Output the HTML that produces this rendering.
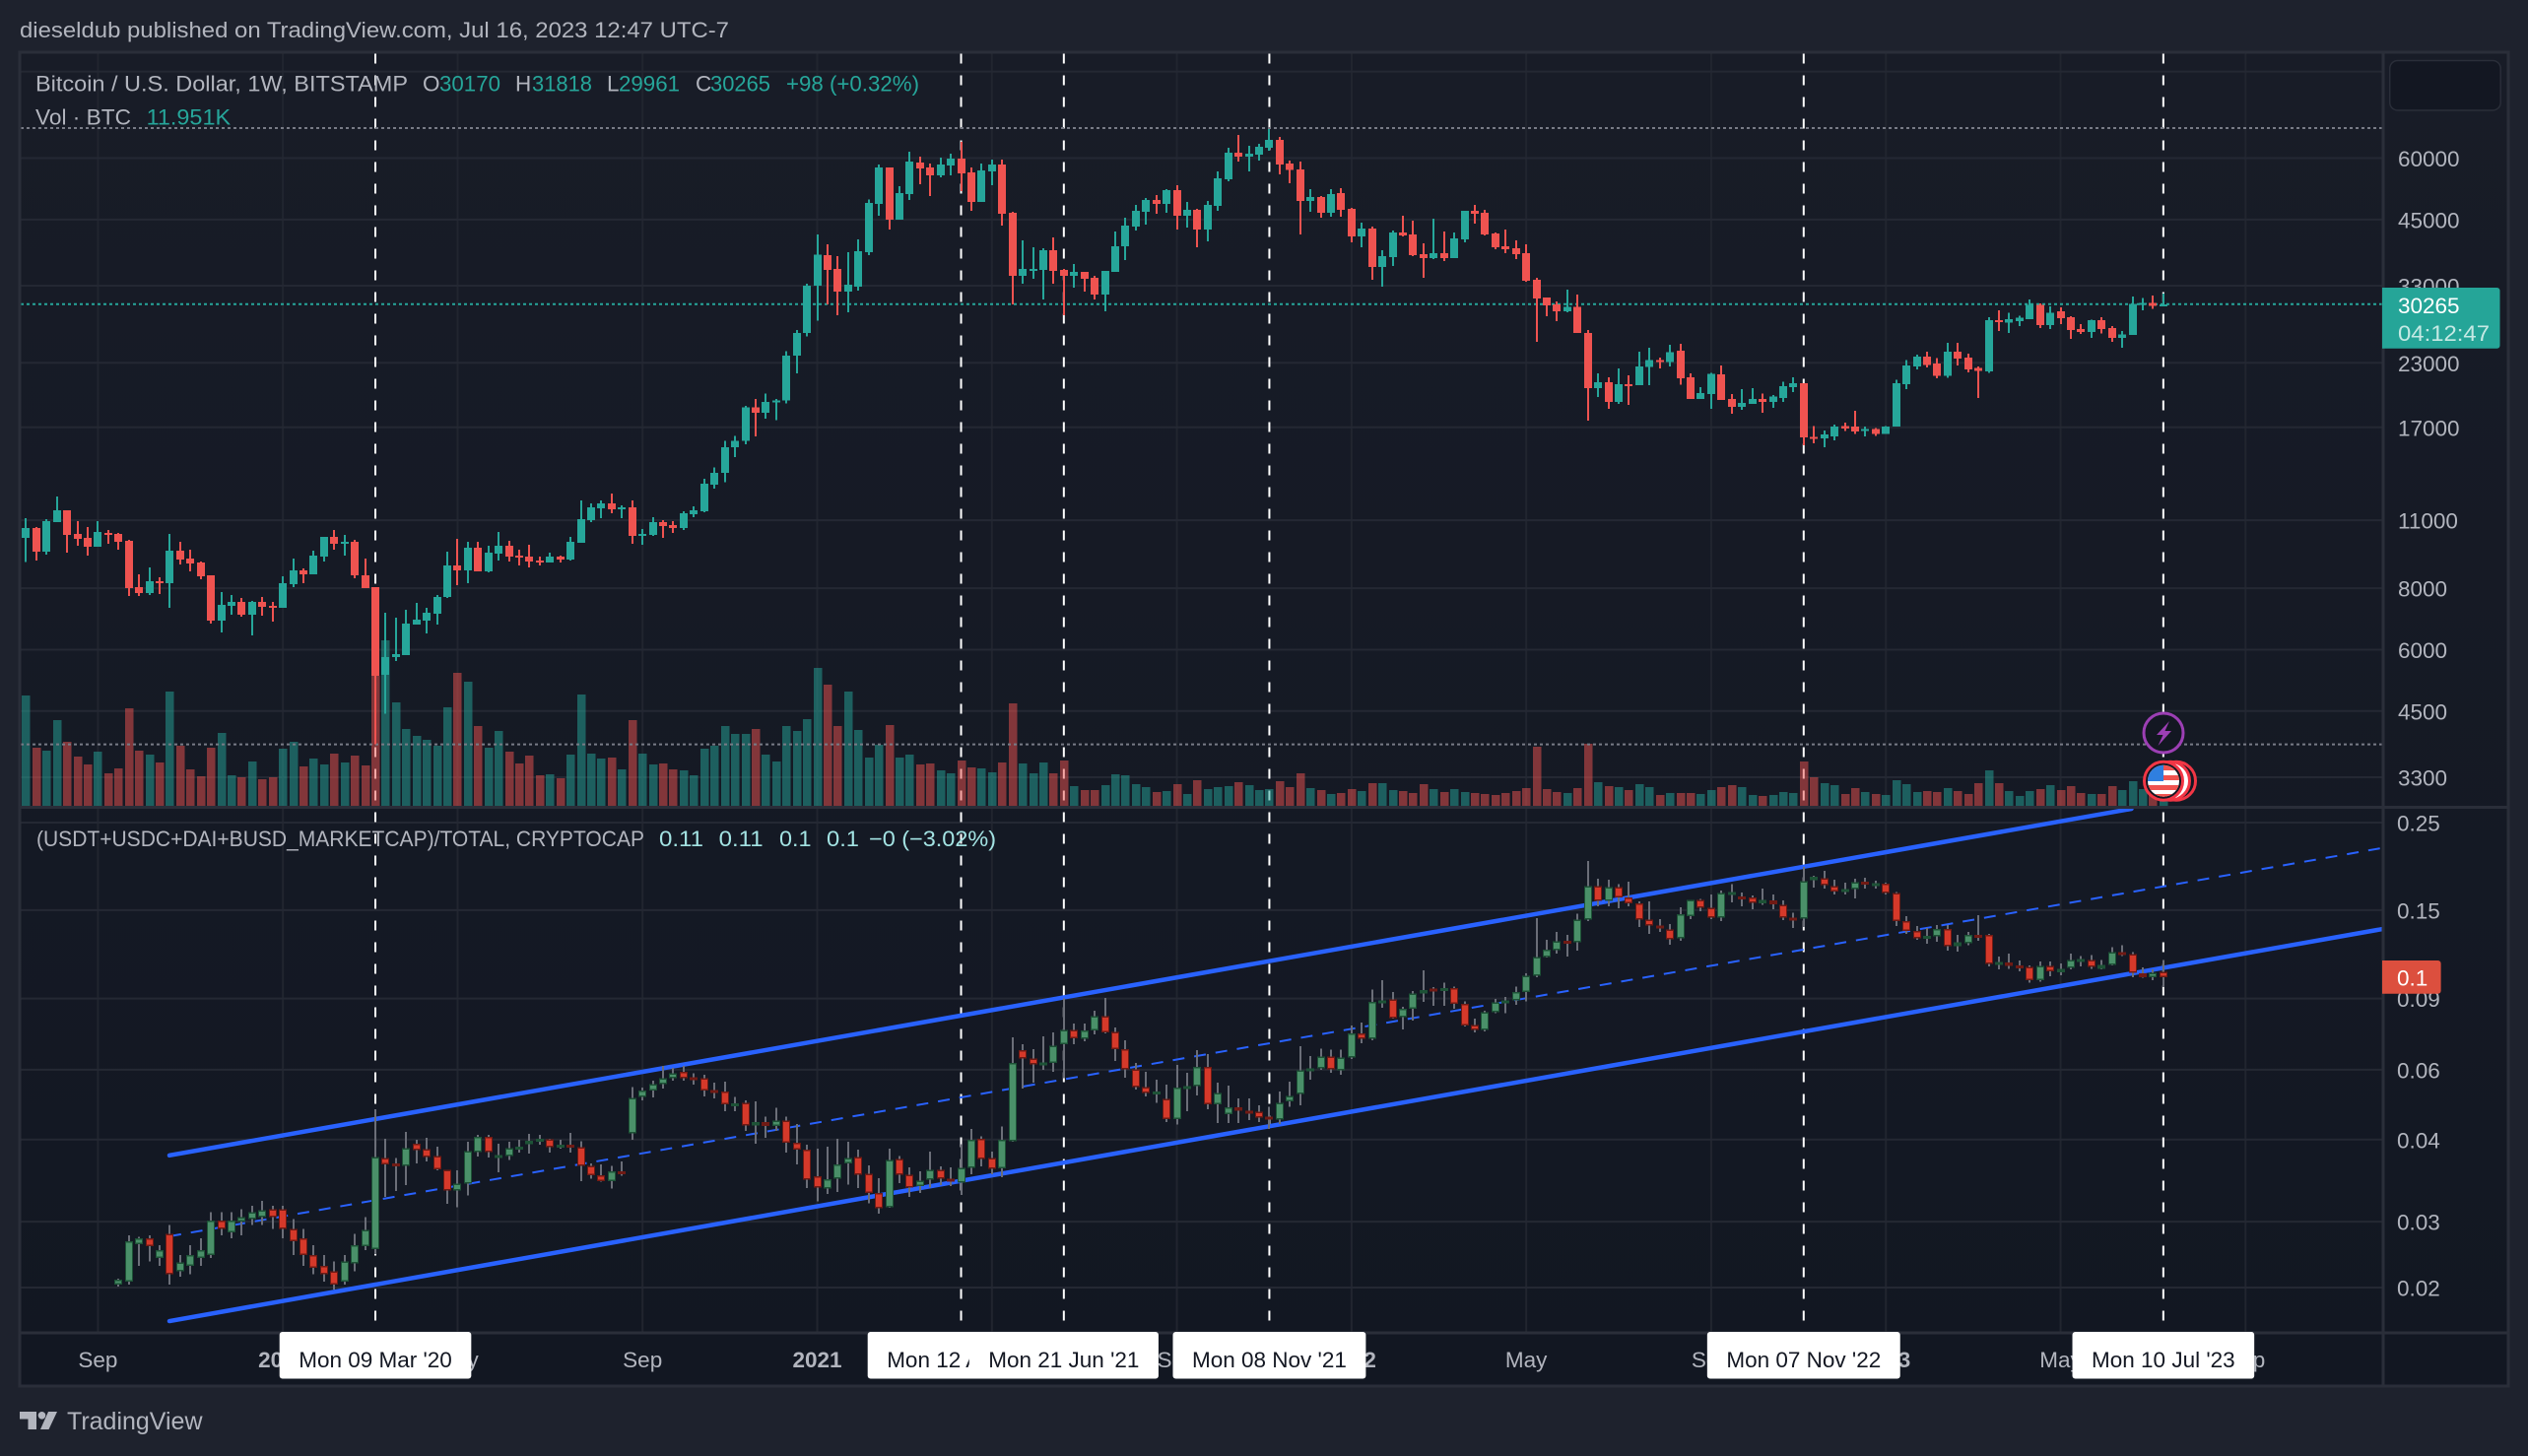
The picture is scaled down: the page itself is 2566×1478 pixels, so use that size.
<!DOCTYPE html>
<html lang="en">
<head>
<meta charset="utf-8">
<title>BTCUSD weekly with stablecoin dominance channel</title>
<style>
html,body{margin:0;padding:0;background:#1e222d;width:2566px;height:1478px;overflow:hidden}
svg{display:block;font-family:"Liberation Sans",Arial,sans-serif}
</style>
</head>
<body>
<svg id="chart" xmlns="http://www.w3.org/2000/svg" width="2566" height="1478" viewBox="0 0 2566 1478">
  <defs>
    <linearGradient id="paneBg" x1="0" y1="0" x2="0" y2="1">
      <stop offset="0" stop-color="#181c27"/>
      <stop offset="1" stop-color="#121722"/>
    </linearGradient>
    <clipPath id="flagClip"><circle cx="2196" cy="792.7" r="16"/></clipPath>
    <clipPath id="paneClip"><rect x="21" y="54" width="2397" height="1298"/></clipPath>
  </defs>
  <rect x="0" y="0" width="2566" height="1478" fill="#1e222d"/>
  <rect x="20" y="53" width="2526" height="1354" fill="url(#paneBg)"/>
  <g id="gridLayer"></g>
  <g id="markerLineLayer" clip-path="url(#paneClip)"></g>
  <g id="channelLayer" clip-path="url(#paneClip)"></g>
  <g id="volumeLayer" shape-rendering="crispEdges"></g>
  <g id="levelLayer"></g>
  <g id="btcLayer" shape-rendering="crispEdges"></g>
  <g id="ratioLayer" shape-rendering="crispEdges"></g>

  <g fill="none" stroke="#2a2e39" stroke-width="3">
    <rect x="20" y="53" width="2526" height="1354"/>
    <line x1="20" y1="819.5" x2="2546" y2="819.5"/>
    <line x1="20" y1="1353" x2="2546" y2="1353"/>
    <line x1="2419" y1="53" x2="2419" y2="1407"/>
  </g>

  <g id="priceAxisLayer"></g>
  <g id="ratioAxisLayer"></g>
  <g id="timeAxisLayer"></g>

  <text x="20" y="38" font-size="22.5" fill="#b2b5be" textLength="720" lengthAdjust="spacingAndGlyphs">dieseldub published on TradingView.com, Jul 16, 2023 12:47 UTC-7</text>

  <g font-size="22.5">
    <text x="36" y="92.5" fill="#b2b5be" textLength="378" lengthAdjust="spacingAndGlyphs">Bitcoin / U.S. Dollar, 1W, BITSTAMP</text>
    <text x="429" y="92.5" fill="#b2b5be">O</text>
    <text x="446" y="92.5" fill="#26a69a" textLength="62" lengthAdjust="spacingAndGlyphs">30170</text>
    <text x="523" y="92.5" fill="#b2b5be">H</text>
    <text x="540" y="92.5" fill="#26a69a" textLength="61" lengthAdjust="spacingAndGlyphs">31818</text>
    <text x="616" y="92.5" fill="#b2b5be">L</text>
    <text x="628" y="92.5" fill="#26a69a" textLength="62" lengthAdjust="spacingAndGlyphs">29961</text>
    <text x="706" y="92.5" fill="#b2b5be">C</text>
    <text x="721" y="92.5" fill="#26a69a" textLength="61" lengthAdjust="spacingAndGlyphs">30265</text>
    <text x="798" y="92.5" fill="#26a69a" textLength="135" lengthAdjust="spacingAndGlyphs">+98 (+0.32%)</text>
    <text x="36" y="126.5" fill="#b2b5be" textLength="97" lengthAdjust="spacingAndGlyphs">Vol · BTC</text>
    <text x="148.6" y="126.5" fill="#26a69a" textLength="85.5" lengthAdjust="spacingAndGlyphs">11.951K</text>
  </g>

  <g font-size="22.5">
    <text x="37" y="859" fill="#b2b5be" textLength="617" lengthAdjust="spacingAndGlyphs">(USDT+USDC+DAI+BUSD_MARKETCAP)/TOTAL, CRYPTOCAP</text>
    <text x="669" y="859" fill="#a3e3e3" textLength="45" lengthAdjust="spacingAndGlyphs">0.11</text>
    <text x="729.6" y="859" fill="#a3e3e3" textLength="45" lengthAdjust="spacingAndGlyphs">0.11</text>
    <text x="791" y="859" fill="#a3e3e3" textLength="32.5" lengthAdjust="spacingAndGlyphs">0.1</text>
    <text x="839" y="859" fill="#a3e3e3" textLength="33" lengthAdjust="spacingAndGlyphs">0.1</text>
    <text x="882" y="859" fill="#a3e3e3" textLength="129" lengthAdjust="spacingAndGlyphs">−0 (−3.02%)</text>
  </g>

  <rect x="2425.7" y="61.5" width="112.5" height="50.5" rx="8" fill="#131722" stroke="#2a2e39" stroke-width="1.5"/>

  <g>
    <path d="M2418 292h116.5a3 3 0 0 1 3 3v55.7a3 3 0 0 1-3 3H2418z" fill="#25a598"/>
    <text x="2434" y="318" font-size="22.5" fill="#ffffff">30265</text>
    <text x="2434" y="346" font-size="22.5" fill="#c5e9e4" textLength="93" lengthAdjust="spacingAndGlyphs">04:12:47</text>
  </g>

  <g>
    <path d="M2418 975h56.6a3 3 0 0 1 3 3v27.7a3 3 0 0 1-3 3H2418z" fill="#dc4f3e"/>
    <text x="2433" y="1000.5" font-size="22.5" fill="#ffffff">0.1</text>
  </g>

  <g>
    <circle cx="2196" cy="744" r="20" fill="#131722" stroke="#9c3fb4" stroke-width="3"/>
    <path d="M2202 732l-13 14h6.500l-5 11 13.500-15h-6.500z" fill="#9c3fb4"/>
  </g>
  <g>
    <circle cx="2209" cy="792.7" r="19.5" fill="#131722" stroke="#f23645" stroke-width="3"/>
    <circle cx="2203" cy="792.7" r="19.5" fill="#ffffff" stroke="#f23645" stroke-width="3"/>
    <circle cx="2196" cy="792.7" r="19.5" fill="#131722" stroke="#f23645" stroke-width="3"/>
    <g clip-path="url(#flagClip)">
      <rect x="2178" y="775" width="36" height="36" fill="#ffffff"/>
      <rect x="2178" y="777" width="36" height="5" fill="#f0524f"/>
      <rect x="2178" y="787" width="36" height="5" fill="#f0524f"/>
      <rect x="2178" y="797" width="36" height="5" fill="#f0524f"/>
      <rect x="2178" y="806" width="36" height="5" fill="#f0524f"/>
      <rect x="2178" y="775" width="18" height="18" fill="#2f7fe0"/>
    </g>
  </g>

  <g>
    <path d="M20 1433h17v18h-8.500v-10.500H20z" fill="#b2b5be"/>
    <circle cx="42.500" cy="1436.800" r="3.800" fill="#b2b5be"/>
    <path d="M49 1433h9l-8.500 18H41z" fill="#b2b5be"/>
    <text x="68" y="1451" font-size="25" fill="#b2b5be" textLength="137.500" lengthAdjust="spacingAndGlyphs">TradingView</text>
  </g>
</svg>

<script>
const btcOpen = [
10130,10608,9496,10905,11527,10318,10129,9718,10366,10318,
9990,8044,7825,8270,8194,9540,9195,9027,8502,6877,
7369,7506,7070,7506,7369,7302,8157,8700,8541,9280,
10177,9853,9944,8502,8044,5337,5798,5852,6752,6877,
7103,7681,8903,8700,9674,8660,9409,9763,9322,9280,
9111,9027,9280,9153,9899,11010,11632,11904,11580,11686,
10224,10271,10905,10755,10608,11316,11473,13000,13750,15480,
15960,18660,18180,19150,19270,23800,26450,33000,38070,35700,
32100,32850,38610,48410,57420,44960,50690,58770,57420,55340,
57950,59850,56120,48850,56370,58220,46430,34560,35530,35530,
38970,35530,34560,35200,34240,31660,35200,39690,43530,46650,
49300,48410,51640,45800,47080,42930,47970,54330,61540,60410,
60980,62980,65350,58490,56960,49080,50000,46430,50930,47300,
41570,43130,36020,37730,42340,41940,38250,37560,38430,37560,
40990,46860,46430,42140,39690,39330,38430,33930,31220,30230,
29270,29900,26450,20430,21000,19150,20830,20710,22540,23290,
23070,24340,21480,19420,19860,21780,19420,18710,18980,19420,
19170,19520,20500,20910,16270,16130,16300,17090,17060,16710,
16850,16500,17060,20800,22600,23660,22920,21660,24210,23570,
22440,22080,28090,27790,27940,28230,30190,27450,29290,28480,
26920,26600,28090,27060,25850,26220,30300,30460,30170];
const btcHigh = [
11108,10657,11057,12295,11527,10955,10657,10955,10510,10366,
10036,8541,8821,8424,10318,9944,9585,9069,8502,7861,
7753,7646,7541,7681,7506,8463,9195,8781,9540,10177,
10510,10271,10036,9195,8044,7135,6972,7234,7472,7302,
7753,9496,10083,9944,9944,9763,10414,9990,9585,9808,
9280,9452,9322,10177,12070,11904,12070,12466,11794,12070,
10559,11160,11007,10955,11473,11740,13357,14100,15950,16340,
18800,19400,19900,19420,24300,26800,33300,41950,40060,37900,
38610,40990,49470,58220,57420,52600,61820,60410,58490,60130,
61260,64740,57420,58490,59590,59590,46650,40810,39510,39330,
41380,35700,36530,35200,34560,35360,42540,45380,48180,49770,
50460,51880,52840,48850,47300,49080,56370,62980,66880,63560,
64140,68750,66260,59310,59040,51880,50230,51880,52120,47520,
44340,43530,38970,42740,45800,44750,40250,45170,42540,42340,
46860,48180,47080,42340,42930,40810,40060,34240,31220,30650,
32410,31660,26810,21890,21490,22400,21680,24220,24680,23560,
25020,25130,21890,20500,21930,22720,19860,20330,20430,19930,
19760,21060,21480,20910,17120,16740,17220,17370,18380,17060,
16940,17120,21240,23290,23920,24210,23490,25280,25280,24000,
22600,28500,29400,29080,28650,30960,30350,29930,29820,28580,
27550,28180,28480,27300,26680,31400,31170,31520,31818];
const btcLow = [
9041,9111,9365,10905,9452,9763,9322,9718,9853,9585,
7717,7717,7753,7789,7302,8944,8660,8346,6782,6507,
7070,7005,6417,7038,6846,7302,8044,8194,8541,9069,
9585,9322,8385,8007,3850,4443,5692,5852,6752,6477,
6752,7646,8119,8194,8660,8620,9111,9069,8903,8821,
8903,9027,9027,9111,9899,10905,11108,11368,11108,9853,
9808,10224,10129,10366,10510,11160,11420,12757,13160,14800,
15700,16300,17700,17600,19000,21900,26000,28000,30230,28730,
29130,32250,38070,45800,42930,44960,49300,53090,50230,54830,
55340,51400,46860,48850,52840,43730,30230,33310,34080,30940,
33310,28730,32700,32100,30940,29270,35200,37210,42740,43930,
46220,46430,42930,43330,39510,40620,46860,53830,59040,56370,
59310,62110,55590,53330,41940,46650,45380,45590,45590,40440,
39510,33930,32850,36190,41570,37900,34240,37380,37040,37560,
40440,44150,41750,39150,38430,37380,33610,25370,28600,27950,
29130,26450,17530,19590,18540,18970,18880,20710,20710,22400,
22610,20760,19420,19420,18550,19310,18120,18450,18980,18190,
18610,19140,20040,15630,15770,15490,15990,16710,16500,16300,
16330,16500,17060,20330,22280,22520,21400,21440,22720,22000,
19520,21930,26680,26450,27300,28230,27060,26920,27550,25710,
26310,25850,26360,25350,24700,26220,29400,29610,29961];
const btcClose = [
10608,9496,10955,11527,10271,10083,9718,10414,10271,9944,
8007,7825,8270,8194,9540,9153,8985,8463,6877,7403,
7506,7070,7506,7335,7302,8194,8700,8541,9322,10177,
9853,9944,8502,8007,5312,5798,5880,6782,6908,7135,
7681,8903,8700,9674,8660,9452,9763,9280,9237,9069,
9027,9280,9153,9944,11057,11686,11904,11580,11686,10224,
10318,10905,10706,10608,11368,11527,13060,13733,15480,15960,
18660,18180,19150,19270,23800,26450,33000,38200,35530,32100,
33150,38790,48630,57420,44960,50930,59040,57150,55340,58220,
59850,55850,48850,56620,58220,46220,34560,35700,35700,38970,
35360,34560,35200,34080,31660,35360,39690,43730,46860,49300,
48410,51640,45800,47080,42930,48180,54580,61540,60410,61260,
63270,65350,58220,56790,49080,50000,46430,50690,47080,41570,
43130,36020,37900,42340,41750,38070,37560,38430,37560,41200,
46860,46220,41940,39510,39150,38250,33770,31080,30090,29270,
29900,26450,20430,21000,19150,20800,20710,22610,23290,23070,
24180,21400,19420,19970,21820,19310,18710,19040,19420,19170,
19620,20610,20910,16210,16130,16450,17060,16910,16680,16850,
16500,17060,20910,22720,23660,22760,21660,24210,23450,22280,
22120,28090,27890,28190,28380,30190,27450,29080,28330,26820,
26600,28090,26920,25850,26260,30300,30460,30010,30265];
/* weekly volume, thousands of BTC */
const btcVolumeK = [
224,118,112,174,130,100,84,110,66,76,
198,112,104,88,232,122,74,60,118,148,
62,58,90,54,58,116,130,80,96,84,
106,88,102,82,264,336,210,156,142,134,
122,200,270,252,162,118,152,110,86,102,
62,64,56,104,226,106,96,98,74,174,
106,84,86,74,72,62,116,122,162,146,
146,156,104,90,162,152,176,280,246,162,
232,154,98,124,164,98,104,84,86,72,
66,92,78,76,68,88,208,86,66,88,
66,92,40,32,32,42,64,62,44,38,
28,30,44,24,52,34,38,40,48,42,
32,34,50,38,66,36,32,24,26,34,
30,46,46,32,30,26,44,34,28,34,
28,26,24,22,26,30,36,120,34,28,
26,36,126,48,40,38,32,44,38,22,
26,26,26,24,32,38,42,38,22,20,
22,28,26,90,58,46,42,24,36,28,
24,22,52,44,28,30,28,36,30,24,
46,72,46,30,20,30,34,42,32,40,
26,24,24,40,32,50,34,26,11.951];

const ratioFirstBar = 9;
const ratioOpen = [
.0181,
.0184,.0227,.0235,.0210,.0241,.0195,.0201,.0210,.0214,.0260,
.0243,.0258,.0262,.0265,.0277,.0277,.0248,.0235,.0214,.0201,
.0195,.0184,.0204,.0225,.0221,.0370,.0358,.0353,.0400,.0388,
.0374,.0346,.0308,.0320,.0382,.0416,.0374,.0374,.0388,.0399,
.0406,.0411,.0394,.0398,.0393,.0353,.0335,.0324,.0343,.0424,
.0522,.0540,.0561,.0580,.0600,.0583,.0580,.0542,.0537,.0497,
.0505,.0444,.0452,.0443,.0456,.0403,.0387,.0333,.0311,.0329,
.0358,.0372,.0338,.0303,.0280,.0367,.0336,.0315,.0327,.0346,
.0329,.0322,.0350,.0412,.0369,.0349,.0406,.0678,.0648,.0627,
.0631,.0701,.0761,.0723,.0758,.0823,.0753,.0682,.0609,.0552,
.0532,.0516,.0460,.0548,.0554,.0617,.0500,.0473,.0492,.0482,
.0480,.0467,.0459,.0509,.0530,.0606,.0613,.0655,.0606,.0652,
.0747,.0723,.0896,.0905,.0818,.0858,.0935,.0960,.0951,.0964,
.0881,.0783,.0760,.0841,.0889,.0899,.0941,.1032,.1149,.1194,
.1258,.1246,.1416,.1713,.1577,.1704,.1604,.1552,.1419,.1372,
.1340,.1275,.1445,.1586,.1517,.1435,.1645,.1615,.1604,.1555,
.1581,.1541,.1435,.1425,.1768,.1790,.1713,.1660,.1682,.1755,
.1720,.1735,.1645,.1404,.1328,.1277,.1289,.1346,.1220,.1240,
.1300,.1300,.1100,.1113,.1095,.1087,.1006,.1093,.1052,.1079,
.1126,.1130,.1073,.1097,.1180,.1168,.1047,.1024,.1055];
const ratioHigh = [
.0187,
.0239,.0237,.0239,.0226,.0253,.0214,.0226,.0235,.0272,.0272,
.0272,.0277,.0282,.0290,.0282,.0282,.0262,.0248,.0226,.0214,
.0206,.0214,.0241,.0265,.0487,.0412,.0369,.0428,.0409,.0414,
.0394,.0346,.0345,.0405,.0421,.0421,.0400,.0405,.0410,.0423,
.0421,.0412,.0410,.0426,.0406,.0358,.0356,.0353,.0362,.0552,
.0550,.0572,.0622,.0615,.0621,.0596,.0591,.0565,.0568,.0522,
.0511,.0509,.0466,.0491,.0466,.0447,.0398,.0389,.0394,.0412,
.0405,.0387,.0354,.0330,.0389,.0374,.0351,.0343,.0383,.0352,
.0351,.0399,.0435,.0417,.0383,.0441,.0730,.0702,.0683,.0734,
.0751,.0910,.0789,.0789,.0847,.0912,.0772,.0718,.0632,.0601,
.0574,.0559,.0625,.0598,.0678,.0664,.0565,.0556,.0517,.0517,
.0498,.0493,.0537,.0568,.0694,.0656,.0685,.0681,.0681,.0781,
.0793,.0955,.1007,.0942,.0866,.0947,.1065,.0969,.0992,.0971,
.0895,.0811,.0847,.0906,.0916,.0971,.1047,.1430,.1265,.1323,
.1302,.1467,.1972,.1784,.1775,.1733,.1754,.1573,.1573,.1421,
.1382,.1520,.1586,.1594,.1632,.1668,.1733,.1651,.1625,.1690,
.1635,.1581,.1473,.1908,.1815,.1866,.1775,.1745,.1784,.1795,
.1765,.1745,.1655,.1445,.1367,.1351,.1376,.1376,.1302,.1323,
.1453,.1308,.1151,.1170,.1126,.1095,.1120,.1120,.1106,.1170,
.1153,.1162,.1130,.1214,.1228,.1179,.1083,.1070,.1130];
const ratioLow = [
.0179,
.0181,.0201,.0206,.0201,.0181,.0189,.0192,.0201,.0210,.0239,
.0235,.0239,.0253,.0253,.0248,.0235,.0214,.0201,.0192,.0184,
.0176,.0181,.0195,.0220,.0215,.0297,.0307,.0317,.0358,.0362,
.0345,.0285,.0280,.0299,.0373,.0371,.0341,.0365,.0381,.0379,
.0398,.0381,.0389,.0381,.0324,.0329,.0323,.0311,.0334,.0410,
.0512,.0520,.0547,.0572,.0572,.0559,.0523,.0517,.0481,.0481,
.0431,.0400,.0414,.0431,.0381,.0356,.0312,.0289,.0302,.0305,
.0318,.0312,.0286,.0270,.0279,.0321,.0297,.0303,.0313,.0317,
.0315,.0300,.0337,.0352,.0337,.0332,.0405,.0547,.0565,.0608,
.0601,.0579,.0702,.0713,.0743,.0747,.0639,.0581,.0544,.0523,
.0505,.0453,.0446,.0481,.0526,.0487,.0450,.0450,.0450,.0458,
.0453,.0435,.0447,.0493,.0498,.0574,.0608,.0598,.0591,.0646,
.0706,.0718,.0862,.0811,.0762,.0801,.0891,.0871,.0871,.0857,
.0775,.0751,.0755,.0836,.0836,.0877,.0895,.1024,.1144,.1170,
.1151,.1190,.1406,.1528,.1528,.1511,.1528,.1360,.1308,.1322,
.1231,.1258,.1421,.1486,.1421,.1406,.1562,.1528,.1503,.1541,
.1503,.1414,.1351,.1360,.1696,.1690,.1635,.1635,.1597,.1690,
.1690,.1635,.1367,.1308,.1265,.1236,.1250,.1190,.1183,.1228,
.1258,.1089,.1070,.1075,.1059,.0992,.0999,.1030,.1036,.1070,
.1089,.1073,.1070,.1095,.1155,.1024,.1020,.1007,.0969];
const ratioClose = [
.0186,
.0231,.0235,.0225,.0220,.0192,.0205,.0214,.0220,.0260,.0248,
.0260,.0265,.0272,.0275,.0265,.0248,.0231,.0214,.0199,.0192,
.0181,.0206,.0226,.0246,.0372,.0356,.0354,.0391,.0386,.0372,
.0347,.0308,.0320,.0384,.0416,.0382,.0376,.0391,.0394,.0407,
.0412,.0393,.0398,.0393,.0353,.0335,.0324,.0343,.0339,.0519,
.0540,.0561,.0580,.0596,.0580,.0578,.0540,.0536,.0500,.0503,
.0444,.0452,.0443,.0456,.0403,.0387,.0327,.0313,.0328,.0356,
.0370,.0336,.0303,.0278,.0365,.0336,.0313,.0325,.0346,.0329,
.0325,.0350,.0409,.0367,.0348,.0409,.0631,.0648,.0627,.0634,
.0697,.0761,.0725,.0758,.0823,.0751,.0682,.0609,.0552,.0533,
.0537,.0460,.0549,.0555,.0617,.0500,.0533,.0492,.0482,.0475,
.0464,.0459,.0505,.0525,.0606,.0613,.0655,.0610,.0652,.0747,
.0723,.0892,.0900,.0814,.0858,.0935,.0954,.0951,.0964,.0881,
.0779,.0760,.0841,.0889,.0899,.0941,.1034,.1148,.1195,.1256,
.1243,.1419,.1713,.1577,.1704,.1604,.1552,.1419,.1372,.1354,
.1270,.1460,.1586,.1517,.1435,.1648,.1655,.1597,.1558,.1586,
.1547,.1435,.1419,.1758,.1805,.1720,.1662,.1682,.1750,.1725,
.1740,.1645,.1404,.1328,.1277,.1292,.1346,.1220,.1247,.1300,
.1290,.1105,.1115,.1092,.1083,.1006,.1093,.1059,.1074,.1130,
.1136,.1085,.1097,.1180,.1164,.1050,.1024,.1050,.1024];

const priceGridValues = [90000,60000,45000,33000,23000,17000,11000,8000,6000,4500,3300];
const priceTickValues = [60000,45000,33000,23000,17000,11000,8000,6000,4500,3300];
const priceTickLabels = ['60000','45000','33000','23000','17000','11000','8000','6000','4500','3300'];
const ratioTickValues = [0.245,0.1495,0.0908,0.0608,0.0410,0.0258,0.0178];
const ratioTickLabels = ['0.25','0.15','0.09','0.06','0.04','0.03','0.02'];
const timeTickBars = [7,25,42,60,77,94,112,129,146,164,181,198,216];
const timeTickLabels = ['Sep','2020','May','Sep','2021','May','Sep','2022','May','Sep','2023','May','Sep'];
const timeTickBold = [false,true,false,false,true,false,false,true,false,false,true,false,false];
const markerBars = [34,91,101,121,173,208];
const markerLabels = ["Mon 09 Mar '20","Mon 12 Apr '21","Mon 21 Jun '21","Mon 08 Nov '21","Mon 07 Nov '22","Mon 10 Jul '23"];
const channelUpperBars = [13.96,204.9];
const channelUpperValues = [0.0375,0.2648];
const channelMiddleBars = [13.96,229.4];
const channelMiddleValues = [0.02376,0.2125];
const channelLowerBars = [13.96,229.4];
const channelLowerValues = [0.01473,0.1345];
const priceHighLevel = 69070;
const priceLowLevel = 3850;
const lastPrice = 30265;

const SVG_NS = 'http://www.w3.org/2000/svg';
function xOf(bar) { return 26.4 + 10.43 * bar; }
function priceY(p) { return 160.5 + 216.7 * Math.log(60000 / p); }
function ratioY(v) { return 835 + 180 * Math.log(0.245 / v); }
function volumeY(v) { return 818 - v * 0.5; }

function shape(parent, tag, props) {
  const el = document.createElementNS(SVG_NS, tag);
  for (const k in props) el.setAttribute(k, props[k]);
  parent.appendChild(el);
  return el;
}
function label(parent, x, y, str, fill, anchor, weight) {
  const el = document.createElementNS(SVG_NS, 'text');
  el.setAttribute('x', x);
  el.setAttribute('y', y);
  el.setAttribute('font-size', '22.5');
  el.setAttribute('fill', fill);
  if (anchor) el.setAttribute('text-anchor', anchor);
  if (weight) el.setAttribute('font-weight', weight);
  el.textContent = str;
  parent.appendChild(el);
  return el;
}

const gridLayer = document.getElementById('gridLayer');
const markerLineLayer = document.getElementById('markerLineLayer');
const channelLayer = document.getElementById('channelLayer');
const volumeLayer = document.getElementById('volumeLayer');
const levelLayer = document.getElementById('levelLayer');
const btcLayer = document.getElementById('btcLayer');
const ratioLayer = document.getElementById('ratioLayer');
const priceAxisLayer = document.getElementById('priceAxisLayer');
const ratioAxisLayer = document.getElementById('ratioAxisLayer');
const timeAxisLayer = document.getElementById('timeAxisLayer');

/* grid */
timeTickBars.forEach(function (bar) {
  const x = xOf(bar);
  const el = shape(gridLayer, 'line', {x1: x, y1: 54, x2: x, y2: 1352, stroke: '#21252f', 'stroke-width': 2});
  
  
});
priceGridValues.forEach(function (v) {
  const y = priceY(v);
  const el = shape(gridLayer, 'line', {x1: 21, y1: y, x2: 2418, y2: y, stroke: '#242833', 'stroke-width': 2});
  
  
});
ratioTickValues.forEach(function (v) {
  const y = ratioY(v);
  const el = shape(gridLayer, 'line', {x1: 21, y1: y, x2: 2418, y2: y, stroke: '#242833', 'stroke-width': 2});
  
  
});

/* vertical date markers */
markerBars.forEach(function (bar) {
  const x = xOf(bar);
  const el = shape(markerLineLayer, 'line', {x1: x, y1: 54.5, x2: x, y2: 1352, stroke: '#ffffff', 'stroke-width': 2, 'stroke-dasharray': '10 12'});
  
  
});

/* stablecoin channel */
function drawChannel(bars, values, width, dash) {
  const el = shape(channelLayer, 'line', {
    x1: xOf(bars[0]), y1: ratioY(values[0]), x2: xOf(bars[1]), y2: ratioY(values[1]),
    stroke: '#2962ff', 'stroke-width': width, 'stroke-linecap': dash ? 'butt' : 'round'
  });
  if (dash) el.setAttribute('stroke-dasharray', dash);
  return el;
}
const upperLine = drawChannel(channelUpperBars, channelUpperValues, 4.5, null);


const middleLine = drawChannel(channelMiddleBars, channelMiddleValues, 2, '12 10');


const lowerLine = drawChannel(channelLowerBars, channelLowerValues, 4.5, null);



/* volume */
btcVolumeK.forEach(function (v, i) {
  const x = Math.round(xOf(i) - 4);
  const y = volumeY(v);
  const up = btcClose[i] >= btcOpen[i];
  const el = shape(volumeLayer, 'rect', {x: x, y: y, width: 8.5, height: 818 - y, fill: up ? '#26a69a' : '#ef5350', 'fill-opacity': 0.5});
  
  
});

/* high / low / last price levels */
const highLevel = shape(levelLayer, 'line', {x1: 21, y1: priceY(priceHighLevel), x2: 2418, y2: priceY(priceHighLevel), stroke: '#787b86', 'stroke-width': 2, 'stroke-dasharray': '3 3'});


const lowLevel = shape(levelLayer, 'line', {x1: 21, y1: priceY(priceLowLevel), x2: 2418, y2: priceY(priceLowLevel), stroke: '#787b86', 'stroke-width': 2, 'stroke-dasharray': '3 3'});


const lastLevel = shape(levelLayer, 'line', {x1: 21, y1: priceY(lastPrice), x2: 2418, y2: priceY(lastPrice), stroke: '#26a69a', 'stroke-width': 2, 'stroke-dasharray': '3 3'});



/* BTC candles */
btcOpen.forEach(function (o, i) {
  const x = xOf(i);
  const c = btcClose[i];
  const color = c >= o ? '#26a69a' : '#ef5350';
  const wick = shape(btcLayer, 'rect', {x: Math.round(x) - 1, y: priceY(btcHigh[i]), width: 2, height: priceY(btcLow[i]) - priceY(btcHigh[i]), fill: color});
  
  
  const top = priceY(Math.max(o, c));
  const h = Math.max(2, priceY(Math.min(o, c)) - top);
  const body = shape(btcLayer, 'rect', {x: Math.round(x) - 4, y: top, width: 8, height: h, fill: color});
  
  
});

/* ratio candles */
ratioOpen.forEach(function (o, k) {
  const x = xOf(k + ratioFirstBar);
  const c = ratioClose[k];
  const up = c >= o;
  const wick = shape(ratioLayer, 'rect', {x: Math.round(x) - 1, y: ratioY(ratioHigh[k]), width: 2, height: ratioY(ratioLow[k]) - ratioY(ratioHigh[k]), fill: '#6b6e78'});
  
  
  const top = ratioY(Math.max(o, c));
  const h = Math.max(3, ratioY(Math.min(o, c)) - top);
  const border = shape(ratioLayer, 'rect', {x: Math.round(x) - 4, y: top, width: 8, height: h, fill: up ? '#1d5236' : '#701a14'});
  
  
  if (h > 4) {
    const fill = shape(ratioLayer, 'rect', {x: Math.round(x) - 3, y: top + 1.5, width: 6, height: h - 3, fill: up ? '#4a9069' : '#d5392a'});
    
    
  }
});

/* price axis */
priceTickValues.forEach(function (v, i) {
  const t = label(priceAxisLayer, 2434, priceY(v) + 8.5, priceTickLabels[i], '#b2b5be');
  
  
});
ratioTickValues.forEach(function (v, i) {
  const t = label(ratioAxisLayer, 2433, ratioY(v) + 8.5, ratioTickLabels[i], '#b2b5be');
  
  
});

/* time axis */
timeTickBars.forEach(function (bar, i) {
  const t = label(timeAxisLayer, xOf(bar), 1388, timeTickLabels[i], '#b2b5be', 'middle', timeTickBold[i] ? 'bold' : null);
  
  
});
markerBars.forEach(function (bar, i) {
  const cx = xOf(bar);
  const box = shape(timeAxisLayer, 'rect', {y: 1352, height: 47.5, rx: 3, fill: '#ffffff'});
  
  
  const t = label(timeAxisLayer, cx, 1388, markerLabels[i], '#131722', 'middle');
  
  
  const w = t.getComputedTextLength() + 39;
  box.setAttribute('x', cx - w / 2);
  box.setAttribute('width', w);
});
</script>
</body>
</html>
